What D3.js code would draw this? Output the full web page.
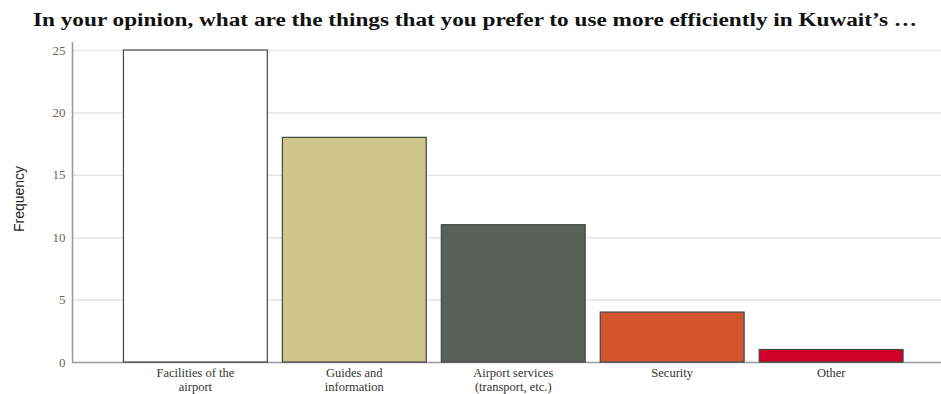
<!DOCTYPE html>
<meta charset="utf-8">
<script src="https://d3js.org/d3.v7.min.js"></script>
<style>
  body { margin: 0; background: #fff; }
  .tick text { font-family: "Liberation Serif", serif; font-size: 13px; fill: #666; }
</style>
<div id="chart"></div>
<script>
  // chart data
  var categories = [["Facilities of the", "airport"], ["Guides and", "information"], ["Airport services", "(transport, etc.)"], ["Security"], ["Other"]];
  var counts = [25, 18, 11, 4, 1];
  var barColors = ["#ffffff", "#cfc68c", "#59615a", "#d35530", "#d1002a"];
  var yTicks = [0, 5, 10, 15, 20, 25];

  var width = 941, height = 394;
  var svg = d3.select("#chart").append("svg")
      .attr("width", width)
      .attr("height", height);

  var x = d3.scaleBand()
      .domain(d3.range(categories.length))
      .range([115.5, 911])
      .paddingInner(0.095)
      .paddingOuter(0.05);

  var y = d3.scaleLinear()
      .domain([0, 25])
      .range([362, 50]);

  // gridlines
  svg.append("g")
      .selectAll("line")
      .data(yTicks)
      .enter()
      .append("line")
      .attr("x1", 72)
      .attr("x2", width)
      .attr("y1", function(d) { return y(d) + 0.5; })
      .attr("y2", function(d) { return y(d) + 0.5; })
      .attr("stroke", function(d) { return d === 0 ? "#999" : "#e6e6e6"; })
      .attr("stroke-width", 1.5);

  // y axis
  var yAxis = svg.append("g")
      .attr("transform", "translate(72.5,0)")
      .call(d3.axisLeft(y).tickValues(yTicks).tickSize(0).tickPadding(7));
  yAxis.select(".domain").attr("stroke", "#999").attr("stroke-width", 1.5)
      .attr("d", "M0," + (y(25) - 8) + "V" + y(0));

  svg.append("text")
      .attr("transform", "translate(24," + 199 + ") rotate(-90)")
      .attr("text-anchor", "middle")
      .style("font-family", "Liberation Sans, Arial, sans-serif")
      .style("font-size", "14px")
      .style("fill", "#222")
      .text("Frequency");

  // bars
  svg.selectAll("rect.bar")
      .data(counts)
      .enter()
      .append("rect")
      .attr("class", "bar")
      .attr("x", function(d, i) { return x(i); })
      .attr("y", function(d) { return y(d); })
      .attr("width", x.bandwidth())
      .attr("height", function(d) { return y(0) - y(d); })
      .attr("fill", function(d, i) { return barColors[i]; })
      .attr("stroke", "#444")
      .attr("stroke-width", 1.2);

  // category labels
  var labels = svg.selectAll("text.cat")
      .data(categories)
      .enter()
      .append("text")
      .attr("class", "cat")
      .attr("text-anchor", "middle")
      .style("font-family", "Liberation Serif, serif")
      .style("font-size", "12.5px")
      .style("fill", "#333");
  labels.selectAll("tspan")
      .data(function(d, i) { return d.map(function(s) { return {s: s, i: i}; }); })
      .enter()
      .append("tspan")
      .attr("x", function(d) { return x(d.i) + x.bandwidth() / 2; })
      .attr("y", function(d, j) { return 377 + j * 14; })
      .text(function(d) { return d.s; });

  // title
  svg.append("text")
      .attr("x", 33)
      .attr("y", 26)
      .attr("textLength", 884)
      .attr("lengthAdjust", "spacingAndGlyphs")
      .style("font-family", "Liberation Serif, serif")
      .style("font-weight", "bold")
      .style("font-size", "18px")
      .style("fill", "#111")
      .text("In your opinion, what are the things that you prefer to use more efficiently in Kuwait\u2019s \u2026");
</script>
